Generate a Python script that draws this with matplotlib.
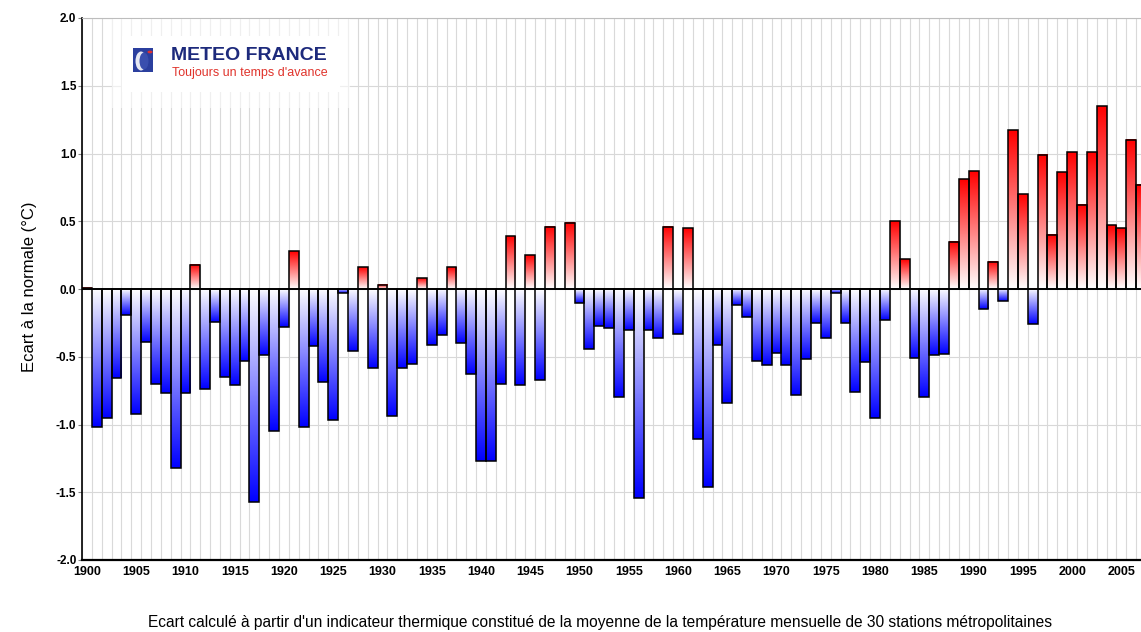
import numpy as np
import matplotlib
matplotlib.use("Agg")
import matplotlib.pyplot as plt
from matplotlib.colors import LinearSegmentedColormap
from matplotlib.patches import Rectangle, Ellipse, Circle

# annual temperature anomaly (France, 30 stations), deg C
years = list(range(1900, 2008))
anomalies = [
    0.01, -1.02, -0.95, -0.66, -0.19, -0.92, -0.39, -0.70, -0.77, -1.32,   # 1900s
    -0.77, 0.18, -0.74, -0.24, -0.65, -0.71, -0.53, -1.57, -0.49, -1.05,   # 1910s
    -0.28, 0.28, -1.02, -0.42, -0.69, -0.97, -0.03, -0.46, 0.16, -0.58,    # 1920s
    0.03, -0.94, -0.58, -0.55, 0.08, -0.41, -0.34, 0.16, -0.40, -0.63,     # 1930s
    -1.27, -1.27, -0.70, 0.39, -0.71, 0.25, -0.67, 0.46, 0.00, 0.49,       # 1940s
    -0.10, -0.44, -0.27, -0.29, -0.80, -0.30, -1.54, -0.30, -0.36, 0.46,   # 1950s
    -0.33, 0.45, -1.11, -1.46, -0.41, -0.84, -0.12, -0.21, -0.53, -0.56,   # 1960s
    -0.47, -0.56, -0.78, -0.52, -0.25, -0.36, -0.03, -0.25, -0.76, -0.54,  # 1970s
    -0.95, -0.23, 0.50, 0.22, -0.51, -0.80, -0.49, -0.48, 0.35, 0.81,      # 1980s
    0.87, -0.15, 0.20, -0.09, 1.17, 0.70, -0.26, 0.99, 0.40, 0.86,         # 1990s
    1.01, 0.62, 1.01, 1.35, 0.47, 0.45, 1.10, 0.77,                        # 2000s
]
label_years = list(range(1900, 2006, 5))
y_ticks = [-2.0, -1.5, -1.0, -0.5, 0.0, 0.5, 1.0, 1.5, 2.0]

W, H = 1141, 632
plt.rcParams['font.family'] = ['Liberation Sans', 'DejaVu Sans']

def fx(px):
    return px / W

def fy(py):
    return 1 - py / H

fig = plt.figure(figsize=(W / 100, H / 100), dpi=100)
ax = fig.add_axes([fx(82), fy(560), fx(1141 - 82), (560 - 18) / H])

red_cmap = LinearSegmentedColormap.from_list('warm', ['#ffffff', '#ff0000'])
blue_cmap = LinearSegmentedColormap.from_list('cold', ['#ffffff', '#0000ff'])
grad = np.linspace(0, 1, 128).reshape(-1, 1)

# gradient fill for each bar, white at zero -> full colour at the tip
for yr, v in zip(years, anomalies):
    if v > 0:
        ax.imshow(grad, extent=[yr, yr + 1, 0, v], origin='lower', cmap=red_cmap,
                  aspect='auto', interpolation='bilinear', zorder=2)
    elif v < 0:
        ax.imshow(grad[::-1], extent=[yr, yr + 1, v, 0], origin='lower', cmap=blue_cmap,
                  aspect='auto', interpolation='bilinear', zorder=2)

ax.bar(years, anomalies, width=1, align='edge', facecolor='none',
       edgecolor='black', linewidth=1.1, zorder=3)
ax.axhline(0, color='black', linewidth=1.3, zorder=4)

ax.set_xlim(1900, 1900 + (W - 82) / 9.852)
ax.set_ylim(-2.0, 2.0)

# vertical grid every year, labels centred on bars every 5 years
ax.set_xticks(np.arange(1900, 2008), minor=True)
ax.set_xticks([y + 0.5 for y in label_years])
ax.set_xticklabels([str(y) for y in label_years], fontsize=9, fontweight='bold')
ax.tick_params(axis='x', which='both', length=0, pad=4)
ax.xaxis.grid(True, which='minor', color='#d9d9d9', linewidth=0.8, zorder=0)
ax.xaxis.grid(False, which='major')

ax.set_yticks(y_ticks)
ax.set_yticklabels([f'{t:.1f}' for t in y_ticks], fontsize=8.5, fontweight='bold')
ax.tick_params(axis='y', length=3, width=0.8, color='#808080', pad=1)
ax.yaxis.grid(True, color='#d8d8d8', linewidth=0.8, zorder=0)
ax.set_axisbelow(True)

ax.spines['right'].set_visible(False)
ax.spines['top'].set_color('#bdbdbd')
ax.spines['left'].set_linewidth(1.2)
ax.spines['bottom'].set_linewidth(1.6)

# logo area (faded background)
fig.patches.append(Rectangle((fx(112), fy(108)), fx(350 - 112), (108 - 19) / H,
                             transform=fig.transFigure, facecolor='white', alpha=0.6,
                             edgecolor='none', zorder=5))
fig.patches.append(Rectangle((fx(122), fy(92)), fx(340 - 122), (92 - 36) / H,
                             transform=fig.transFigure, facecolor='white',
                             edgecolor='none', zorder=5))
fig.patches.append(Rectangle((fx(133), fy(72)), fx(20), 24 / H,
                             transform=fig.transFigure, facecolor='#2b3f9e',
                             edgecolor='none', zorder=6))
fig.patches.append(Ellipse((fx(141), fy(61)), fx(11), 19 / H,
                           transform=fig.transFigure, facecolor='#e6e8f2',
                           edgecolor='none', zorder=7))
fig.patches.append(Ellipse((fx(144), fy(61)), fx(9), 17 / H,
                           transform=fig.transFigure, facecolor='#3a4fae',
                           edgecolor='none', zorder=7))
fig.patches.append(Circle((fx(150), fy(52)), fx(2.5),
                          transform=fig.transFigure, facecolor='#e03030',
                          edgecolor='none', zorder=8))
fig.text(fx(171), fy(56), 'METEO FRANCE', fontsize=14, fontweight='bold',
         color='#1d2a7c', ha='left', va='center', zorder=8)
fig.text(fx(172), fy(73), "Toujours un temps d'avance", fontsize=9,
         color='#e0342c', ha='left', va='center', zorder=8)

fig.text(fx(30), fy(287), 'Ecart à la normale (°C)', rotation=90, fontsize=12,
         ha='center', va='center')
fig.text(fx(600), fy(623), "Ecart calculé à partir d'un indicateur thermique constitué "
         "de la moyenne de la température mensuelle de 30 stations métropolitaines",
         fontsize=11.2, ha='center', va='center')

fig.savefig('out.png', dpi=100)
